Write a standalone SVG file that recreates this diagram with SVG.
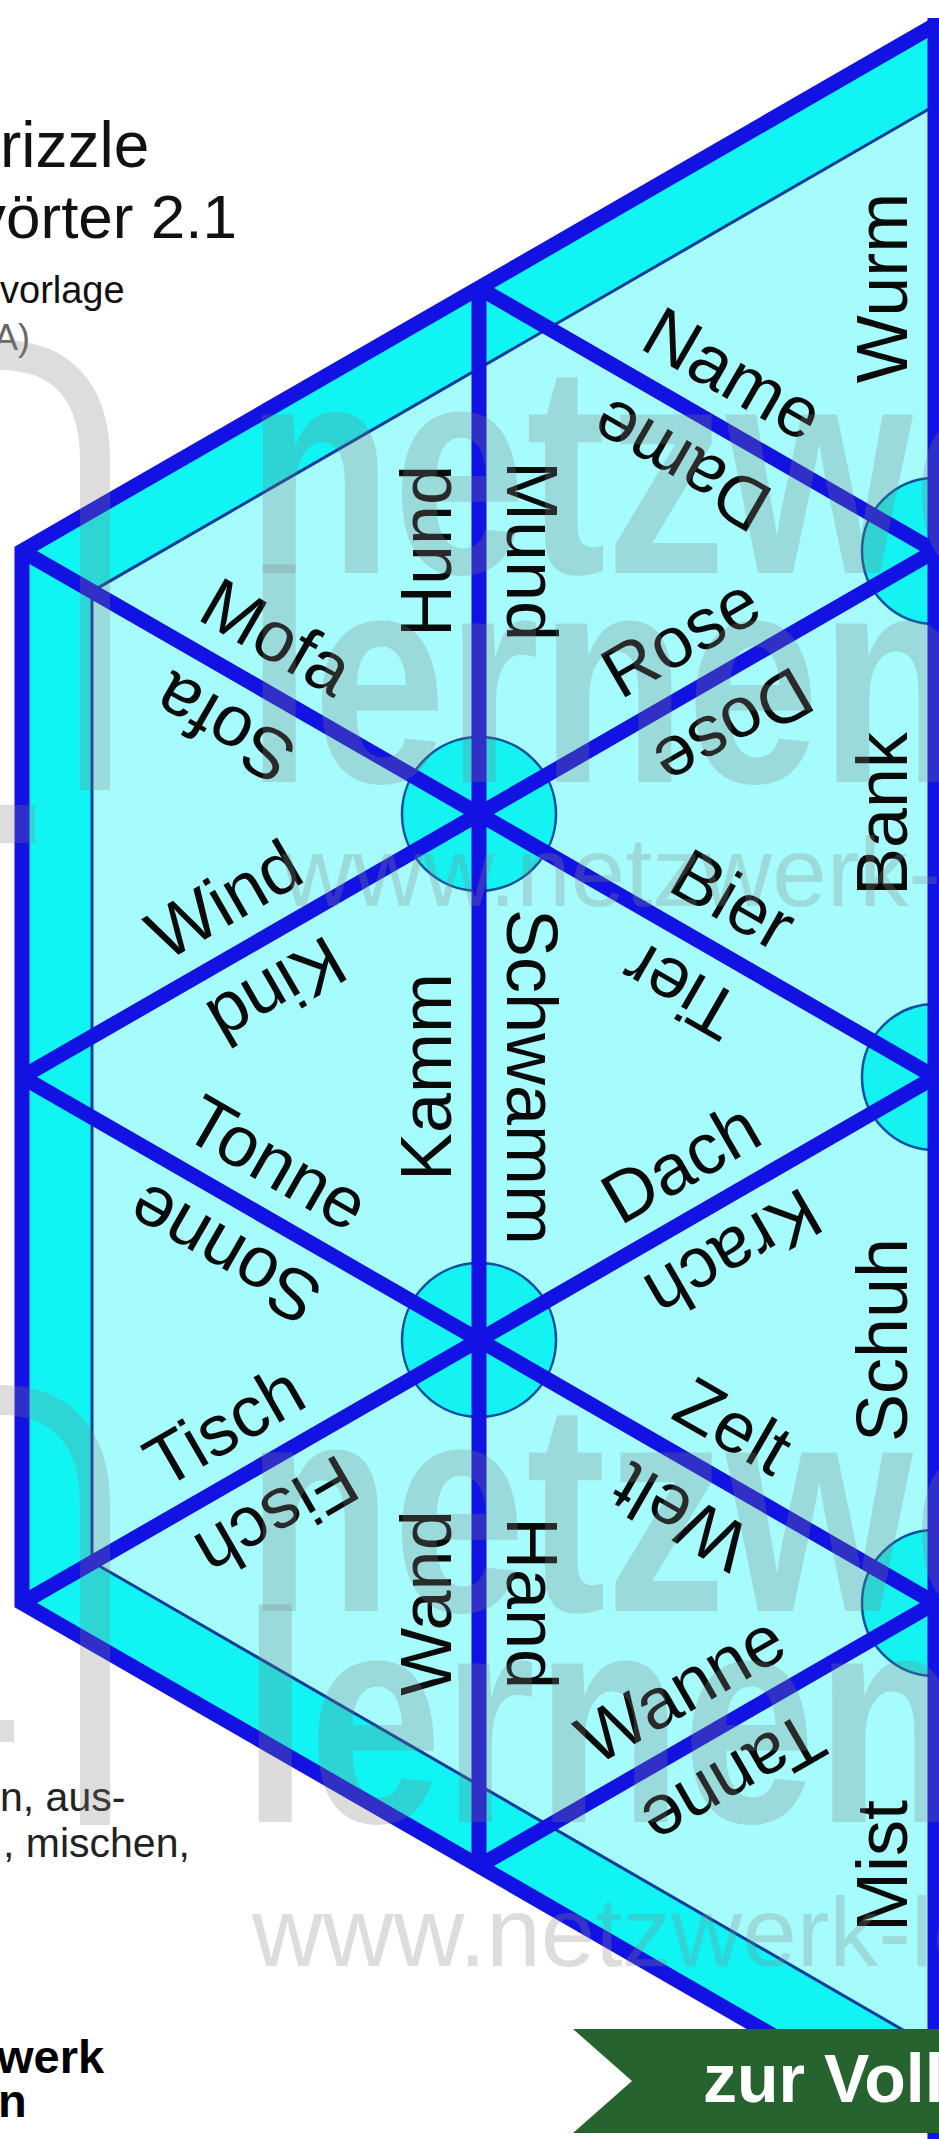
<svg xmlns="http://www.w3.org/2000/svg" width="939" height="2139" viewBox="0 0 939 2139">
<style>
.lbl{font-family:"Liberation Sans",Arial,sans-serif;font-size:72px;fill:#0a0a0a;text-anchor:middle}
.edge{stroke:#1212E2;stroke-width:15;fill:none;stroke-linejoin:miter;stroke-linecap:butt}
.hub{fill:#14F2F2;stroke:#0D4FA0;stroke-width:2.5}
.hdr{font-family:"Liberation Sans",Arial,sans-serif;fill:#111}
.wmb{font-family:"Liberation Sans",Arial,sans-serif;font-weight:bold;font-size:300px;fill:#808080;opacity:0.27}
.wmu{font-family:"Liberation Sans",Arial,sans-serif;font-size:98px;fill:#888888;opacity:0.28}
.wml{fill:none;stroke:#808080;stroke-width:30;opacity:0.27}
</style>
<rect width="939" height="2139" fill="#ffffff"/>
<g id="header">
<text class="hdr" x="0" y="167" font-size="64">rizzle</text>
<text class="hdr" x="-25" y="238" font-size="62">vörter 2.1</text>
<text class="hdr" x="0" y="303" font-size="38" fill="#222">vorlage</text>
<text class="hdr" x="-6" y="350" font-size="36" style="fill:#666">A)</text>
</g>
<g id="footer-text">
<text class="hdr" x="0" y="1811" font-size="41" style="fill:#222">n, aus-</text>
<text class="hdr" x="3" y="1857" font-size="41" style="fill:#222">, mischen,</text>
<text class="hdr" x="-3" y="2073" font-size="47" font-weight="bold" style="fill:#000">werk</text>
<text class="hdr" x="-2" y="2117" font-size="47" font-weight="bold" style="fill:#000">n</text>
</g>
<g id="board">
<polygon points="22,551 479,288 935,25 935,2129 479,1866 22,1603" fill="#10F4F4"/>
<polygon points="92,591.4 935,105.5 935,2048.5 92,1561.7" fill="#A6FCFC" stroke="#0B3C9C" stroke-width="3"/>
</g>
<g id="hubs">
<circle class="hub" cx="479" cy="814" r="77"/>
<circle class="hub" cx="479" cy="1340" r="77"/>
<circle class="hub" cx="935" cy="551" r="73"/>
<circle class="hub" cx="935" cy="1077" r="73"/>
<circle class="hub" cx="935" cy="1603" r="73"/>
</g>
<g id="connectors">
<polyline class="edge" points="935,25 479,288 22,551 22,1603 479,1866 935,2129"/>
<line class="edge" x1="479" y1="288" x2="479" y2="1866"/>
<line class="edge" x1="935" y1="18" x2="935" y2="2139"/>
<line class="edge" x1="22" y1="551" x2="479" y2="814"/>
<line class="edge" x1="22" y1="1077" x2="479" y2="814"/>
<line class="edge" x1="22" y1="1077" x2="479" y2="1340"/>
<line class="edge" x1="22" y1="1603" x2="479" y2="1340"/>
<line class="edge" x1="479" y1="288" x2="935" y2="551"/>
<line class="edge" x1="479" y1="814" x2="935" y2="551"/>
<line class="edge" x1="479" y1="814" x2="935" y2="1077"/>
<line class="edge" x1="479" y1="1340" x2="935" y2="1077"/>
<line class="edge" x1="479" y1="1340" x2="935" y2="1603"/>
<line class="edge" x1="479" y1="1866" x2="935" y2="1603"/>
</g>
<g id="tile-L1"><text class="lbl" transform="translate(451 551) rotate(-90)">Hund</text><text class="lbl" transform="translate(264.5 658.3) rotate(30)">Mofa</text></g>
<g id="tile-L2"><text class="lbl" transform="translate(236.5 706.7) rotate(-150)">Sofa</text><text class="lbl" transform="translate(236.5 921.3) rotate(-30)">Wind</text></g>
<g id="tile-L3"><text class="lbl" transform="translate(264.5 969.7) rotate(150)">Kind</text><text class="lbl" transform="translate(451 1077) rotate(-90)">Kamm</text><text class="lbl" transform="translate(264.5 1184.3) rotate(30)">Tonne</text></g>
<g id="tile-L4"><text class="lbl" transform="translate(236.5 1232.7) rotate(-150)">Sonne</text><text class="lbl" transform="translate(236.5 1447.3) rotate(-30)">Tisch</text></g>
<g id="tile-L5"><text class="lbl" transform="translate(264.5 1495.7) rotate(150)">Fisch</text><text class="lbl" transform="translate(451 1603) rotate(-90)">Wand</text></g>
<g id="tile-R1"><text class="lbl" transform="translate(721 395.3) rotate(30)">Name</text><text class="lbl" transform="translate(907 288) rotate(-90)">Wurm</text></g>
<g id="tile-R2"><text class="lbl" transform="translate(507 551) rotate(90)">Mund</text><text class="lbl" transform="translate(693 443.7) rotate(-150)">Dame</text><text class="lbl" transform="translate(693 658.3) rotate(-30)">Rose</text></g>
<g id="tile-R3"><text class="lbl" transform="translate(721 706.7) rotate(150)">Dose</text><text class="lbl" transform="translate(907 814) rotate(-90)">Bank</text><text class="lbl" transform="translate(721 921.3) rotate(30)">Bier</text></g>
<g id="tile-R4"><text class="lbl" transform="translate(693 969.7) rotate(-150)">Tier</text><text class="lbl" transform="translate(507 1077) rotate(90)">Schwamm</text><text class="lbl" transform="translate(693 1184.3) rotate(-30)">Dach</text></g>
<g id="tile-R5"><text class="lbl" transform="translate(721 1232.7) rotate(150)">Krach</text><text class="lbl" transform="translate(907 1340) rotate(-90)">Schuh</text><text class="lbl" transform="translate(721 1447.3) rotate(30)">Zelt</text></g>
<g id="tile-R6"><text class="lbl" transform="translate(693 1495.7) rotate(-150)">Welt</text><text class="lbl" transform="translate(507 1603) rotate(90)">Hand</text><text class="lbl" transform="translate(693 1710.3) rotate(-30)">Wanne</text></g>
<g id="tile-R7"><text class="lbl" transform="translate(721 1758.7) rotate(150)">Tanne</text><text class="lbl" transform="translate(907 1866) rotate(-90)">Mist</text></g>
<g id="watermark">
<path class="wml" d="M0,355 C60,355 95,390 95,460 L95,790"/>
<rect x="0" y="805" width="35" height="38" fill="#808080" opacity="0.27"/>
<path class="wml" d="M0,1400 C60,1400 95,1435 95,1505 L95,1825"/>
<rect x="0" y="1720" width="14" height="22" fill="#808080" opacity="0.27"/>
<text class="wmb" transform="translate(246 573) scale(0.8 1)">netzwerk</text>
<text class="wmb" transform="translate(246 782) scale(0.8 1)">lernen</text>
<text class="wmu" x="282" y="906">www.netzwerk-le</text>
<text class="wmb" transform="translate(246 1611) scale(0.8 1)">netzwerk</text>
<text class="wmb" transform="translate(242 1822) scale(0.8 1)">lernen</text>
<text class="wmu" x="252" y="1966">www.netzwerk-le</text>
</g>
<g id="banner">
<polygon points="573,2029 939,2029 939,2133 573,2133 632,2081" fill="#27632F"/>
<text x="703" y="2102" font-family="Liberation Sans, Arial, sans-serif" font-weight="bold" font-size="68" fill="#ffffff">zur Voll</text>
</g>
</svg>
